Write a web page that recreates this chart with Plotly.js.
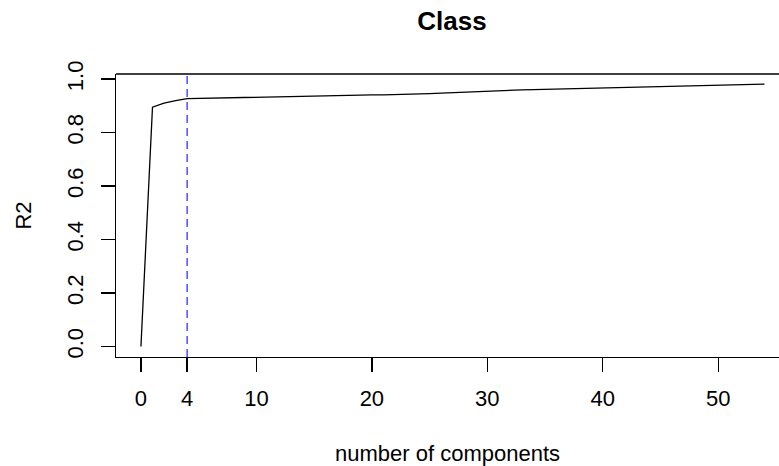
<!DOCTYPE html>
<html>
<head>
<meta charset="utf-8">
<script src="https://cdn.plot.ly/plotly-3.0.1.min.js"></script>
<style>html,body{margin:0;padding:0;background:#fff;}#chart{width:779px;height:466px;}</style>
</head>
<body>
<div id="chart"></div>
<script>
// number of components
const components = [0,1,2,3,4,5,6,7,8,9,10,11,12,13,14,15,16,17,18,19,20,21,22,23,24,25,26,27,28,29,30,31,32,33,34,35,36,37,38,39,40,41,42,43,44,45,46,47,48,49,50,51,52,53,54];
// R2 per number of components
const r2 = [0,0.895,0.910,0.920,0.927,0.928,0.929,0.930,0.931,0.932,0.933,0.934,0.935,0.936,0.937,0.937,0.938,0.939,0.939,0.940,0.941,0.941,0.942,0.942,0.943,0.946,0.948,0.950,0.952,0.953,0.954,0.956,0.958,0.960,0.961,0.962,0.964,0.966,0.967,0.968,0.969,0.970,0.971,0.972,0.973,0.974,0.975,0.976,0.977,0.977,0.978,0.979,0.980,0.981,0.981];
const chosen = 4;
const xTicks = [0,4,10,20,30,40,50];
const xTickLabels = ['0','4','10','20','30','40','50'];
const yTicks = [0,0.2,0.4,0.6,0.8,1.0];
const yTickLabels = ['0.0','0.2','0.4','0.6','0.8','1.0'];

const FONT = 'Liberation Sans, Arial, Helvetica, sans-serif';

const trace = {
  x: components, y: r2, type: 'scatter', mode: 'lines',
  line: {color: '#000000', width: 1.3}, hoverinfo: 'skip'
};

const layout = {
  width: 779, height: 466,
  margin: {l: 116, r: 0, t: 74, b: 109, pad: 0},
  paper_bgcolor: '#ffffff', plot_bgcolor: '#ffffff',
  showlegend: false,
  font: {family: FONT, size: 22, color: '#000000'},
  title: {text: '<b>Class</b>', font: {family: FONT, size: 26, color: '#000'},
          xref: 'container', x: 452/779, xanchor: 'center',
          yref: 'container', y: 1 - 21/466, yanchor: 'middle'},
  xaxis: {
    range: [-2.16, 55.26], tickmode: 'array', tickvals: xTicks, ticktext: xTickLabels,
    ticks: 'outside', ticklen: 14, tickwidth: 1.3, tickcolor: '#000',
    ticklabelstandoff: 7,
    showline: true, linecolor: '#000', linewidth: 1.3,
    showgrid: false, zeroline: false,
    tickfont: {family: FONT, size: 22, color: '#000'},
    title: {text: 'number of components', font: {family: FONT, size: 22, color: '#000'}, standoff: 42}
  },
  yaxis: {
    range: [-0.0392, 1.0192], tickmode: 'array', tickvals: yTicks, ticktext: yTickLabels,
    ticks: 'outside', ticklen: 14, tickwidth: 1.3, tickcolor: '#000', tickangle: -90,
    ticklabelstandoff: 9,
    showline: true, linecolor: '#000', linewidth: 1.3,
    showgrid: false, zeroline: false,
    tickfont: {family: FONT, size: 22, color: '#000'},
    title: {text: 'R2', font: {family: FONT, size: 22, color: '#000'}, standoff: 25}
  },
  shapes: [
    {type: 'line', xref: 'paper', yref: 'paper', x0: 0, x1: 1, y0: 1, y1: 1,
     line: {color: '#000', width: 1.3}},
    {type: 'line', xref: 'x', yref: 'paper', x0: chosen, x1: chosen, y0: 0, y1: 1,
     line: {color: '#3333ff', width: 1.3, dash: '8px,5px'}}
  ]
};

Plotly.newPlot('chart', [trace], layout, {staticPlot: true, displayModeBar: false});
</script>
</body>
</html>
